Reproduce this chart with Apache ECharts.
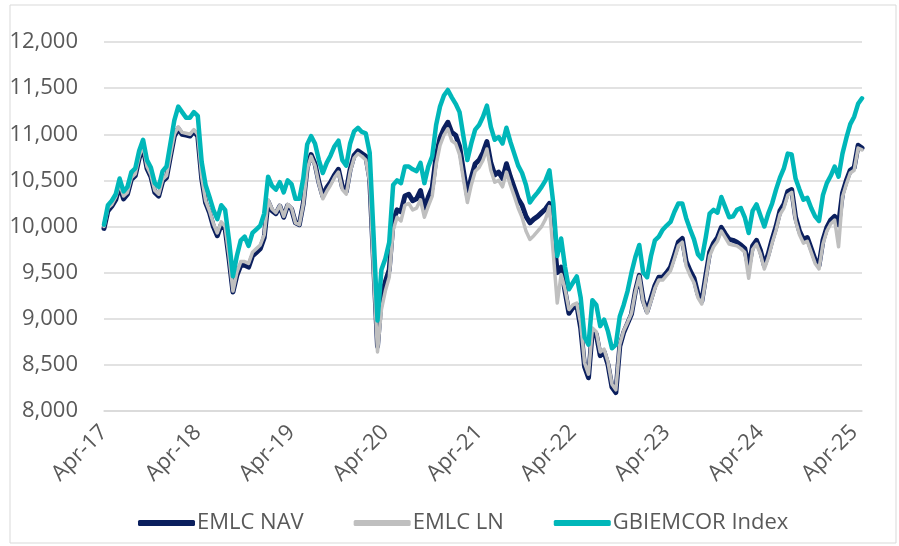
<!DOCTYPE html>
<html>
<head>
<meta charset="utf-8">
<script src="https://cdn.jsdelivr.net/npm/echarts@6/dist/echarts.min.js"></script>
<style>
html,body{margin:0;padding:0;background:#fff;}
#chart{width:899px;height:546px;}
</style>
</head>
<body>
<div id="chart"></div>
<script>
// Semi-monthly observations, 1 Apr 2017 .. 16 May 2025
var startYear = 2017, startMonth = 3; // April (0-based)
var pointCount = 195;
var monthNames = ['Jan','Feb','Mar','Apr','May','Jun','Jul','Aug','Sep','Oct','Nov','Dec'];
var categories = [];
for (var k = 0; k < pointCount; k++) {
  var m = startMonth + Math.floor(k / 2);
  var y = startYear + Math.floor(m / 12);
  var mm = m % 12;
  categories.push(y + '-' + (mm + 1 < 10 ? '0' : '') + (mm + 1) + '-' + (k % 2 === 0 ? '01' : '16'));
}

var yTicks = [8000, 8500, 9000, 9500, 10000, 10500, 11000, 11500, 12000];

var gbiemcorIndex = [
10020,10230,10280,10350,10520,10380,10430,10590,10630,10820,
10940,10720,10640,10470,10430,10600,10650,10900,11150,11300,
11240,11180,11180,11240,11200,10700,10450,10320,10180,10080,
10230,10180,9850,9460,9680,9850,9890,9790,9930,9970,
10010,10140,10540,10440,10400,10480,10370,10500,10460,10300,
10300,10520,10890,10980,10900,10720,10580,10690,10770,10870,
10930,10720,10660,10900,11030,11070,11025,11010,10800,9900,
8980,9530,9650,9830,10450,10500,10470,10650,10650,10620,
10600,10690,10470,10650,10760,11100,11300,11420,11480,11400,
11330,11240,10975,10720,10900,11050,11100,11190,11310,11080,
10940,10970,10900,11070,10920,10790,10660,10580,10450,10260,
10320,10370,10430,10500,10610,10250,9680,9870,9560,9320,
9390,9460,9230,8800,8720,9200,9150,8920,8990,8860,
8680,8720,9025,9150,9300,9500,9670,9800,9500,9450,
9680,9850,9890,9965,10010,10050,10160,10250,10250,10090,
9970,9860,9700,9650,9880,10140,10180,10150,10320,10210,
10100,10110,10180,10200,10100,9930,10170,10240,10120,10000,
10140,10250,10400,10530,10630,10790,10780,10520,10400,10290,
10310,10200,10110,10060,10340,10470,10550,10650,10540,10790,
10960,11110,11190,11330,11390
];

var emlcNav = [
9980,10170,10220,10290,10440,10300,10350,10510,10550,10740,
10860,10630,10540,10370,10330,10490,10530,10760,10980,11060,
11000,10990,10980,11030,10980,10520,10260,10150,10000,9900,
10020,9980,9650,9290,9470,9580,9580,9560,9680,9720,
9760,9880,10270,10170,10140,10220,10100,10230,10190,10040,
10020,10250,10640,10780,10680,10480,10330,10420,10480,10560,
10620,10430,10380,10620,10770,10820,10790,10760,10520,9600,
8700,9250,9400,9530,10050,10180,10160,10330,10350,10280,
10300,10390,10200,10320,10420,10760,10960,11060,11130,11020,
10990,10870,10600,10340,10530,10680,10720,10800,10920,10690,
10560,10590,10520,10680,10540,10420,10300,10230,10110,10040,
10080,10110,10150,10190,10250,9950,9500,9560,9300,9060,
9120,9150,8900,8480,8360,8880,8830,8600,8640,8500,
8260,8200,8700,8850,8950,9050,9300,9470,9200,9080,
9220,9360,9450,9450,9500,9560,9690,9830,9870,9620,
9520,9440,9270,9190,9460,9720,9820,9880,9990,9920,
9860,9850,9830,9800,9760,9560,9790,9850,9740,9580,
9700,9860,10000,10170,10240,10380,10400,10100,9950,9860,
9880,9760,9640,9580,9850,9990,10070,10110,10020,10360,
10500,10610,10640,10880,10850
];

var emlcLn = [
10000,10200,10240,10320,10460,10330,10370,10530,10570,10760,
10880,10650,10560,10390,10350,10510,10550,10780,11000,11080,
11020,11010,11000,11050,11000,10540,10280,10170,10030,9930,
10050,10000,9680,9300,9500,9620,9620,9600,9720,9760,
9800,9910,10290,10190,10150,10230,10110,10240,10200,10040,
10020,10240,10620,10760,10660,10460,10300,10380,10450,10530,
10590,10400,10350,10590,10740,10790,10760,10720,10480,9500,
8640,9100,9300,9450,9960,10100,10060,10230,10250,10180,
10200,10290,10100,10220,10330,10670,10880,10990,11060,10930,
10900,10780,10510,10260,10450,10600,10640,10720,10840,10610,
10480,10500,10430,10590,10450,10330,10200,10100,9950,9860,
9900,9950,10000,10080,10215,9700,9170,9480,9320,9100,
9150,9170,8950,8520,8400,8900,8860,8640,8670,8530,
8290,8230,8720,8870,8960,9060,9290,9460,9180,9060,
9190,9330,9420,9420,9470,9520,9650,9790,9830,9570,
9470,9390,9230,9160,9420,9680,9780,9840,9950,9880,
9810,9800,9790,9760,9720,9440,9750,9810,9700,9540,
9660,9820,9960,10130,10200,10340,10370,10060,9910,9820,
9840,9720,9600,9540,9810,9950,10030,10070,9780,10320,
10460,10580,10610,10850,10830
];

var seriesNames = ['EMLC NAV', 'EMLC LN', 'GBIEMCOR Index'];
var seriesColors = ['#0b1f5e', '#bfbfbf', '#00b7b9'];
var seriesData = [emlcNav, emlcLn, gbiemcorIndex];
var seriesWidths = [5, 3.5, 4.5];

var chart = echarts.init(document.getElementById('chart'), null, {renderer: 'canvas'});

var fontFam = '"Open Sans", "DejaVu Sans", sans-serif';

var series = seriesNames.map(function (n, idx) {
  return {
    name: n,
    type: 'line',
    data: seriesData[idx],
    showSymbol: false,
    symbol: 'none',
    smooth: false,
    lineStyle: {color: seriesColors[idx], width: seriesWidths[idx], join: 'round', cap: 'round'},
    itemStyle: {color: seriesColors[idx]},
    z: 2 + idx,
    animation: false
  };
});

chart.setOption({
  animation: false,
  backgroundColor: '#ffffff',
  graphic: [{
    type: 'rect',
    shape: {x: 10, y: 5, width: 886, height: 538},
    style: {fill: 'none', stroke: '#d9d9d9', lineWidth: 1},
    silent: true,
    z: -1
  }],
  grid: {left: 104, right: 37, top: 42, bottom: 135, containLabel: false},
  legend: {
    top: 507,
    left: 133,
    itemWidth: 57,
    itemHeight: 6,
    itemGap: 50,
    icon: 'roundRect',
    textStyle: {color: '#595959', fontSize: 22, fontFamily: fontFam, padding: [0, 0, 0, -3]},
    data: seriesNames
  },
  xAxis: {
    type: 'category',
    data: categories,
    boundaryGap: false,
    axisLine: {show: true, lineStyle: {color: '#d9d9d9', width: 1.5}},
    axisTick: {show: false},
    splitLine: {show: false},
    axisLabel: {
      interval: function (index) { return index % 24 === 0; },
      rotate: 45,
      margin: 18,
      color: '#595959',
      fontSize: 22,
      fontFamily: fontFam,
      formatter: function (v) {
        var parts = v.split('-');
        return monthNames[parseInt(parts[1], 10) - 1] + '-' + parts[0].slice(2);
      }
    }
  },
  yAxis: {
    type: 'value',
    min: yTicks[0],
    max: yTicks[yTicks.length - 1],
    interval: 500,
    axisLine: {show: false},
    axisTick: {show: false},
    splitLine: {show: true, lineStyle: {color: '#d9d9d9', width: 1.5}},
    axisLabel: {
      margin: 26,
      color: '#595959',
      fontSize: 22,
      fontFamily: fontFam,
      formatter: function (v) { return v.toLocaleString('en-US'); }
    }
  },
  series: series
});
</script>
</body>
</html>
